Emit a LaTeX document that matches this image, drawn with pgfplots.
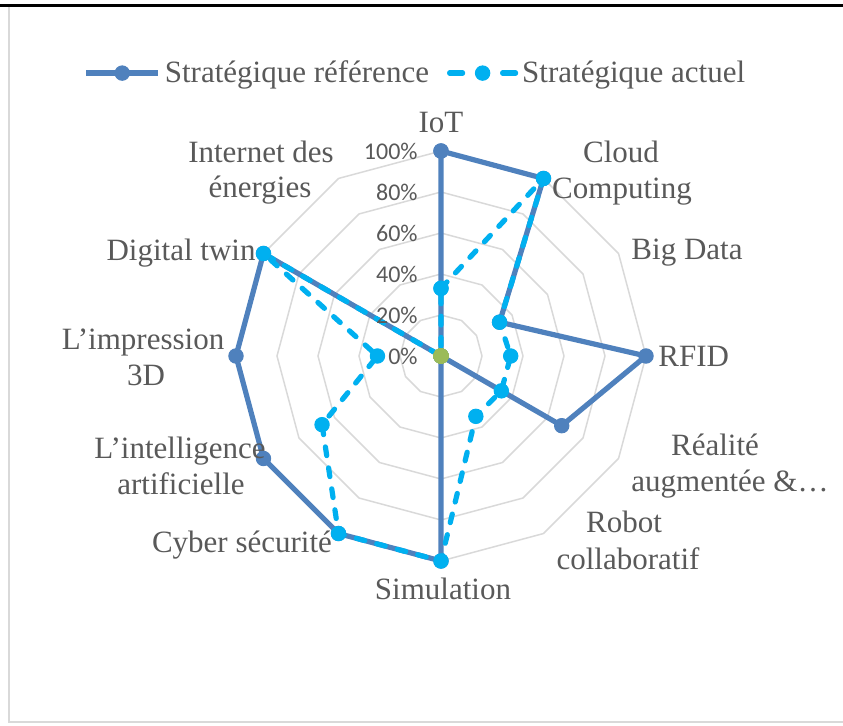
\documentclass[border=0pt]{standalone}
\usepackage{fontspec}
\setmainfont{Liberation Serif}
\newfontfamily\calibri{Carlito}
\usepackage{pgfplots}
\pgfplotsset{compat=1.18}
\usepgfplotslibrary{polar}
\definecolor{refblue}{HTML}{4F81BD}
\definecolor{actblue}{HTML}{00B0F0}
\definecolor{zerogreen}{HTML}{9BBB59}
\definecolor{textgrey}{HTML}{595959}
\definecolor{gridgrey}{HTML}{D9D9D9}

\pgfplotsset{
  actlegend/.style={legend image code/.code={
    \draw[##1, solid, mark=none] (1.5pt,0pt) -- (8pt,0pt) (28pt,0pt) -- (34.5pt,0pt);
    \path[##1] plot coordinates {(18pt,0pt)};}},
}

% category label, positions in reference pixels (1px = 0.5pt)
\newcommand{\lab}[4][base]{\node[anchor=#1, inner sep=0pt, text=textgrey,
  font=\fontsize{15.5pt}{18pt}\selectfont] at ({#2*0.5pt},{-#3*0.5pt}) {#4};}

\begin{document}
\begin{tikzpicture}
\useasboundingbox (0,0) rectangle (421.5pt,-363pt);
\draw[black, line width=1.5pt] (0,-2.75pt) -- (421.5pt,-2.75pt);
\draw[gridgrey, line width=0.75pt] (4.5pt,-3.5pt) -- (4.5pt,-361pt) -- (421.5pt,-361pt);

\begin{polaraxis}[
  at={(220.5pt,-178pt)}, anchor=center,
  scale only axis, width=205pt, height=205pt,
  xmin=0, xmax=360, ymin=0, ymax=1,
  hide axis, clip=false,
  legend columns=2,
  legend style={at={(axis description cs:0.44,1.19)}, anchor=center,
    draw=none, fill=none, text=textgrey,
    font=\fontsize{15.5pt}{18pt}\selectfont,
    /tikz/every even column/.append style={column sep=7pt}},
  legend image code/.code={\draw[mark repeat=2, mark phase=2, #1]
    plot coordinates {(0pt,0pt) (18pt,0pt) (36pt,0pt)};},
]
% polygon grid
\pgfplotsinvokeforeach{0.2,0.4,0.6,0.8,1}{
  \addplot[forget plot, gridgrey, line width=0.75pt, mark=none]
    coordinates {(0,#1) (30,#1) (60,#1) (90,#1) (120,#1) (150,#1) (180,#1)
                 (210,#1) (240,#1) (270,#1) (300,#1) (330,#1) (360,#1)};
}

% IoT 90, Cloud 60, Big Data 30, RFID 0, Realite 330, Robot 300, Simulation 270,
% Cyber 240, IA 210, 3D 180, Digital twin 150, Internet des energies 120
\addplot[refblue, line width=2.6pt, line join=round, mark=*, mark size=3.6pt,
  mark options={solid, fill=refblue, draw=refblue, line width=0.5pt}]
  coordinates {(90,1.00) (60,1.00) (30,0.33) (0,1.00) (330,0.68) (300,0)
               (270,1.00) (240,1.00) (210,1.00) (180,1.00) (150,1.00) (120,0) (90,1.00)};
\addlegendentry{Stratégique référence}

\addplot[actblue, line width=2.6pt, dash pattern=on 4.4pt off 6.2pt, line cap=round,
  line join=round, mark=*, mark size=3.6pt,
  mark options={solid, fill=actblue, draw=actblue, line width=0.5pt}, actlegend]
  coordinates {(90,0.33) (60,1.00) (30,0.33) (0,0.34) (330,0.34) (300,0.34)
               (270,1.00) (240,1.00) (210,0.67) (180,0.31) (150,1.00) (120,0) (90,0.33)};
\addlegendentry{Stratégique actuel}

\addplot[forget plot, only marks, mark=*, mark size=3.6pt, zerogreen,
  mark options={fill=zerogreen, draw=zerogreen}]
  coordinates {(90,0) (60,0) (30,0) (0,0) (330,0) (300,0)
               (270,0) (240,0) (210,0) (180,0) (150,0) (120,0)};

% radial tick labels
\addplot[forget plot, draw=none, mark=none, point meta=explicit symbolic,
  nodes near coords,
  nodes near coords style={anchor=east, inner sep=0pt, xshift=-11.5pt,
    text=textgrey, font=\calibri\fontsize{12pt}{12pt}\selectfont}]
  coordinates {(90,0) [0\%] (90,0.2) [20\%] (90,0.4) [40\%]
               (90,0.6) [60\%] (90,0.8) [80\%] (90,1) [100\%]};
\end{polaraxis}

\lab{441}{133}{IoT}
\lab{621}{163}{Cloud}
\lab{622}{199}{Computing}
\lab{687}{260}{Big Data}
\lab[base west]{658}{367}{RFID}
\lab{715}{456}{Réalité}
\lab{730}{492}{augmentée \&…}
\lab{624}{533}{Robot}
\lab{628}{570}{collaboratif}
\lab{443}{600}{Simulation}
\lab{242}{553}{Cyber sécurité}
\lab{180}{459}{L’intelligence}
\lab{181}{495}{artificielle}
\lab{143}{350}{L’impression}
\lab{146}{386}{3D}
\lab{181}{261}{Digital twin}
\lab{261}{163}{Internet des}
\lab{260}{198}{énergies}
\end{tikzpicture}
\end{document}
